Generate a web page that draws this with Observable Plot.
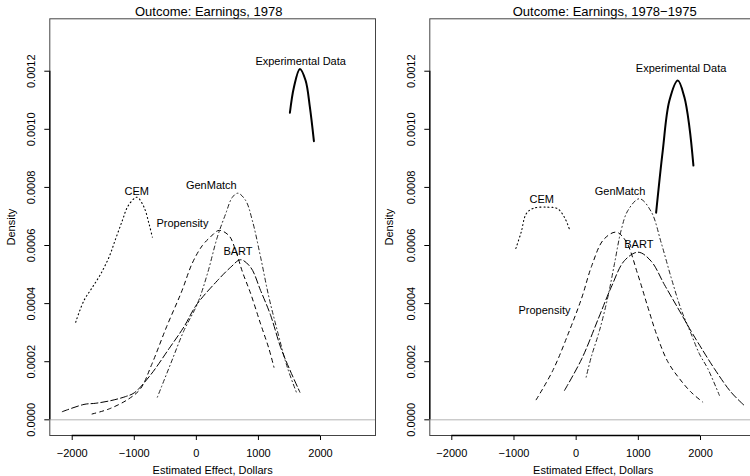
<!DOCTYPE html>
<html>
<head>
<meta charset="utf-8">
<script src="https://cdn.jsdelivr.net/npm/d3@7"></script>
<script src="https://cdn.jsdelivr.net/npm/@observablehq/plot@0.6"></script>
<style>
  html, body { margin: 0; padding: 0; background: white; overflow: hidden; }
  #wrap { position: relative; width: 750px; height: 476px; }
  .panel { position: absolute; top: 0; }
</style>
</head>
<body>
<div id="wrap">
  <div id="left" class="panel" style="left:0px;width:376px"></div>
  <div id="right" class="panel" style="left:375px;width:375px"></div>
</div>
<script>
// ---------- data ----------
const xTicks = [-2000, -1000, 0, 1000, 2000];
const yTicks = [0, 0.0002, 0.0004, 0.0006, 0.0008, 0.0010, 0.0012];
const titles = ["Outcome: Earnings, 1978", "Outcome: Earnings, 1978\u22121975"];
const xLabel = "Estimated Effect, Dollars";
const yLabel = "Density";
const methods = ["Experimental Data", "CEM", "Propensity", "GenMatch", "BART"];

// Panel 1: Earnings, 1978  ([effect, density])
const exp78 = [[1507,0.001057],[1572,0.001145],[1668,0.001208],[1760,0.001168],[1829,0.001076],[1894,0.000959]];
const cem78 = [[-1944,0.000336],[-1810,0.000411],[-1675,0.000456],[-1541,0.000502],[-1407,0.000560],[-1300,0.000623],[-1192,0.000686],[-1111,0.000732],[-1005,0.000761],[-950,0.000766],[-843,0.000732],[-763,0.000675],[-709,0.000629]];
const prop78 = [[-1680,0.000020],[-1400,0.000038],[-1090,0.000072],[-900,0.000107],[-720,0.000190],[-480,0.000320],[-240,0.000440],[-64,0.000540],[97,0.000600],[230,0.000630],[364,0.000652],[525,0.000634],[633,0.000583],[741,0.000510],[874,0.000435],[1035,0.000330],[1169,0.000245],[1250,0.000181]];
const gen78 = [[-628,0.000078],[-414,0.000193],[-200,0.000307],[16,0.000399],[177,0.000502],[338,0.000629],[472,0.000709],[580,0.000766],[670,0.000780],[794,0.000755],[902,0.000686],[1035,0.000560],[1169,0.000422],[1304,0.000307],[1465,0.000181],[1620,0.000090]];
const bart78 = [[-2160,0.000028],[-1810,0.000053],[-1620,0.000057],[-1380,0.000066],[-1140,0.000080],[-1000,0.000093],[-736,0.000155],[-440,0.000245],[-200,0.000320],[0,0.000395],[338,0.000479],[552,0.000525],[713,0.000551],[874,0.000525],[1035,0.000445],[1196,0.000360],[1357,0.000250],[1500,0.000175],[1668,0.000095]];
const labels78 = [[1680,0.001234],[-961,0.000787],[-225,0.000677],[241,0.000807],[670,0.000580]];

// Panel 2: Earnings, 1978-1975
const exp7875 = [[1286,0.000713],[1393,0.000927],[1500,0.001099],[1635,0.001168],[1741,0.001110],[1822,0.001007],[1886,0.000875]];
const cem7875 = [[-970,0.000590],[-884,0.000646],[-804,0.000709],[-690,0.000728],[-455,0.000732],[-300,0.000727],[-188,0.000697],[-110,0.000657]];
const prop7875 = [[-643,0.000069],[-375,0.000170],[-108,0.000307],[90,0.000420],[250,0.000530],[440,0.000620],[643,0.000646],[800,0.000615],[992,0.000500],[1150,0.000390],[1300,0.000290],[1474,0.000200],[1660,0.000142],[1849,0.000095],[2036,0.000061]];
const gen7875 = [[161,0.000147],[241,0.000215],[375,0.000307],[509,0.000422],[616,0.000537],[723,0.000652],[831,0.000720],[1018,0.000761],[1206,0.000717],[1367,0.000610],[1527,0.000490],[1688,0.000380],[1849,0.000296],[1982,0.000227],[2117,0.000176],[2304,0.000084]];
const bart7875 = [[-188,0.000101],[90,0.000210],[360,0.000350],[563,0.000456],[777,0.000548],[1000,0.000577],[1206,0.000546],[1420,0.000465],[1635,0.000385],[1849,0.000305],[1956,0.000267],[2223,0.000176],[2492,0.000095],[2706,0.000049]];
const labels7875 = [[1688,0.001208],[-555,0.000757],[-510,0.000376],[707,0.000786],[1008,0.000603]];

// ---------- drawing ----------
const font = "'Liberation Sans', Arial, Helvetica, sans-serif";
const fmtX = d3.format("d");
const fmtY = d3.format(".4f");
const yDomain = [-0.000054, 0.0013804];

function panel({series, labels, title, titleDx, xDomain, width, marginLeft, marginRight, yLabDx, xLabDx}) {
  const [exp, cem, prop, gen, bart] = series;
  const lbl = labels.map((p, i) => ({x: p[0], y: p[1], t: methods[i]}));
  const line = (data, opts) => Plot.line(data, {x: d => d[0], y: d => d[1], stroke: "black", curve: "catmull-rom", ...opts});
  return Plot.plot({
    width, height: 476,
    marginLeft, marginRight, marginTop: 18.3, marginBottom: 41,
    style: {fontFamily: font, fontSize: "11px", background: "transparent", color: "black"},
    x: {domain: xDomain, ticks: xTicks, tickFormat: fmtX, tickSize: 5, tickPadding: 9, label: null},
    y: {domain: yDomain, ticks: yTicks, tickFormat: () => "", tickSize: 5, tickPadding: 0, label: null},
    marks: [
      Plot.ruleY([0], {stroke: "#b4b4b4", strokeWidth: 1}),
      Plot.frame({stroke: "#444", strokeWidth: 1}),
      Plot.ruleY([yDomain[0]], {y: d => d, x1: xTicks[0], x2: xTicks[xTicks.length - 1], stroke: "black", strokeWidth: 1.3}),
      Plot.ruleX([xDomain[0]], {x: d => d, y1: yTicks[0], y2: yTicks[yTicks.length - 1], stroke: "black", strokeWidth: 1.3}),
      line(cem, {strokeDasharray: "1 3", strokeWidth: 1.1}),
      line(prop, {strokeDasharray: "4 4", strokeWidth: 1}),
      line(gen, {strokeDasharray: "1 3 4 3", strokeWidth: 1, stroke: "#222"}),
      line(bart, {strokeDasharray: "7 3", strokeWidth: 1}),
      line(exp, {strokeWidth: 2}),
      Plot.text(lbl, {x: "x", y: "y", text: "t", fontSize: 11, fill: "black", lineAnchor: "middle"}),
      Plot.text(yTicks, {y: d => d, frameAnchor: "left", dx: -18, rotate: -90, text: d => fmtY(d), fontSize: 11, fill: "black", textAnchor: "middle", lineAnchor: "middle"}),
      Plot.text([yLabel], {frameAnchor: "left", dx: yLabDx, rotate: -90, fontSize: 11, fill: "black", textAnchor: "middle", lineAnchor: "middle"}),
      Plot.text([xLabel], {frameAnchor: "bottom", dx: xLabDx, dy: 35, fontSize: 11, fill: "black", lineAnchor: "middle"}),
      Plot.text([title], {frameAnchor: "top", dx: titleDx, dy: -7, fontSize: 13, fill: "black", lineAnchor: "middle"})
    ]
  });
}

document.getElementById("left").append(panel({
  series: [exp78, cem78, prop78, gen78, bart78], labels: labels78,
  title: titles[0], titleDx: -4,
  xDomain: [-2361, 2886], width: 376, marginLeft: 49.3, marginRight: 1,
  yLabDx: -38, xLabDx: 0
}));
document.getElementById("right").append(panel({
  series: [exp7875, cem7875, prop7875, gen7875, bart7875], labels: labels7875,
  title: titles[1], titleDx: 14.5,
  xDomain: [-2354, 2804], width: 375, marginLeft: 54.3, marginRight: 0,
  yLabDx: -40, xLabDx: 3
}));
</script>
</body>
</html>
